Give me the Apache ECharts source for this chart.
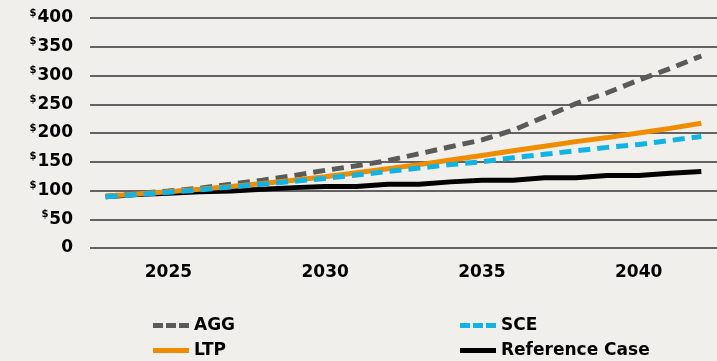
<!DOCTYPE html>
<html>
<head>
<meta charset="utf-8">
<script src="https://cdn.jsdelivr.net/npm/echarts@6/dist/echarts.min.js"></script>
<style>
  html, body { margin: 0; padding: 0; background: #f1efeb; }
  #chart { width: 717px; height: 361px; }
</style>
</head>
<body>
<div id="chart"></div>
<script>
// Years on the horizontal axis
var years = ['2023','2024','2025','2026','2027','2028','2029','2030','2031','2032',
             '2033','2034','2035','2036','2037','2038','2039','2040','2041','2042'];
var yearLabels = ['2025', '2030', '2035', '2040'];

// Scenario paths ($)
var agg = [90, 95, 99, 104, 111, 118, 126, 135, 143, 152, 164, 176, 188, 205, 228, 251, 270, 292, 312, 334];
var sce = [89, 93, 97, 101, 106, 111, 116, 121, 127, 133, 139, 145, 150, 157, 163, 169, 175, 180, 187, 194];
var ltp = [90, 94, 98, 102, 107, 112, 118, 124, 131, 138, 145, 153, 161, 169, 177, 185, 192, 200, 208, 217];
var referenceCase = [89, 93, 95, 98, 99, 102, 105, 107, 107, 111, 111, 115, 118, 118, 122, 122, 126, 126, 130, 133];

var FONT = 'DejaVu Sans';
var chart = echarts.init(document.getElementById('chart'), null, { renderer: 'canvas' });

function lineSeries(name, data, color, dashed, z) {
  return {
    name: name,
    type: 'line',
    data: data,
    symbol: 'none',
    smooth: false,
    z: z,
    lineStyle: {
      color: color,
      width: 5,
      type: dashed ? [12, 7] : 'solid'
    },
    itemStyle: { color: color }
  };
}

var legendText = { fontFamily: FONT, fontWeight: 'bold', fontSize: 17, color: '#000' };
var DASH_ICON = 'path://M0,0h10v5h-10z M13,0h10v5h-10z M26,0h10v5h-10z';

function legendItem(name, left, top, icon) {
  return {
    data: [name],
    left: left,
    top: top,
    icon: icon,
    itemWidth: 36,
    itemHeight: 5,
    padding: 0,
    textStyle: legendText
  };
}

chart.setOption({
  backgroundColor: '#f1efeb',
  animation: false,
  grid: { left: 90, right: 0, top: 18, bottom: 113 },
  xAxis: {
    type: 'category',
    data: years,
    boundaryGap: true,
    axisLine: { show: false },
    axisTick: { show: false },
    axisLabel: {
      interval: 0,
      margin: 16,
      fontFamily: FONT,
      fontWeight: 'bold',
      fontSize: 17,
      color: '#000',
      formatter: function (v) { return yearLabels.indexOf(v) >= 0 ? v : ''; }
    }
  },
  yAxis: {
    type: 'value',
    min: 0,
    max: 400,
    interval: 50,
    axisLine: { show: false },
    axisTick: { show: false },
    splitLine: { lineStyle: { color: '#626262', width: 2 } },
    axisLabel: {
      margin: 17,
      formatter: function (v) { return v === 0 ? '{n|0}' : '{s|$}{n|' + v + '}'; },
      rich: {
        n: { fontFamily: FONT, fontWeight: 'bold', fontSize: 17, color: '#000', lineHeight: 20 },
        s: { fontFamily: FONT, fontWeight: 'bold', fontSize: 10, color: '#000', lineHeight: 20, verticalAlign: 'top', padding: [0, 1, 0, 0] }
      }
    }
  },
  legend: [
    legendItem('AGG', 153, 317, DASH_ICON),
    legendItem('LTP', 153, 342, 'rect'),
    legendItem('SCE', 460, 317, DASH_ICON),
    legendItem('Reference Case', 460, 342, 'rect')
  ],
  series: [
    lineSeries('Reference Case', referenceCase, '#000000', false, 2),
    lineSeries('AGG', agg, '#5a5a5a', true, 3),
    lineSeries('LTP', ltp, '#f08c00', false, 4),
    lineSeries('SCE', sce, '#10b4e4', true, 5)
  ]
});
</script>
</body>
</html>
